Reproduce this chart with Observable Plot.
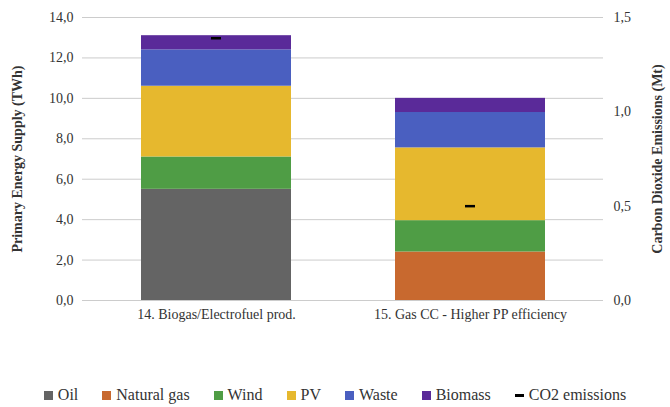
<!DOCTYPE html>
<html><head>
<script src="https://cdn.jsdelivr.net/npm/d3@7"></script>
<script src="https://cdn.jsdelivr.net/npm/@observablehq/plot@0.6"></script>
<style>
body{margin:0;background:#fff;font-family:'Liberation Serif',serif;}
#legend{display:flex;justify-content:center;gap:24px;font-size:16px;margin-top:56px;color:#333}
#legend span{display:flex;align-items:center;gap:5px}
#legend i{display:inline-block;width:9px;height:9px}
</style></head><body>
<div id="chart"></div>
<div id="legend"></div>
<script>
const scenarios = ["14. Biogas/Electrofuel prod.", "15. Gas CC - Higher PP efficiency"]
const sources = ["Oil", "Natural gas", "Wind", "PV", "Waste", "Biomass"]
const colors = ["#646464", "#c8692f", "#4f9d45", "#e6b82e", "#4a5fc0", "#5a2a99"]
const values = [
  [5.5, 0, 1.6, 3.5, 1.8, 0.7],
  [0, 2.4, 1.55, 3.6, 1.75, 0.7]
]
const co2 = [1.39, 0.5]

const rows = []
scenarios.forEach((s, i) => sources.forEach((src, j) => rows.push({scenario: s, source: src, value: values[i][j]})))
const k = 14 / 1.5
const co2rows = scenarios.map((s, i) => ({scenario: s, v: co2[i] * k}))
const fmt = d => d.toFixed(1).replace(".", ",")

const chart = Plot.plot({
  width: 670, height: 330,
  marginLeft: 82, marginRight: 67, marginTop: 17, marginBottom: 30,
  style: {fontFamily: "'Liberation Serif', serif", fontSize: "14px", color: "#333"},
  x: {domain: scenarios, label: null, paddingInner: 0.41, paddingOuter: 0.23, tickSize: 0},
  y: {domain: [0, 14]},
  color: {domain: sources, range: colors},
  marks: [
    Plot.gridY(d3.range(0, 14.1, 2), {stroke: "#ccc", strokeOpacity: 1}),
    Plot.barY(rows, {x: "scenario", y: "value", fill: "source", order: sources}),
    Plot.tickY(co2rows, {x: "scenario", y: "v", stroke: "#000", strokeWidth: 2.5, inset: 70}),
    Plot.axisY(d3.range(0, 14.1, 2), {anchor: "left", tickSize: 0, tickFormat: fmt,
      label: "Primary Energy Supply (TWh)", labelAnchor: "center", labelArrow: "none", labelOffset: 70}),
    Plot.axisY(d3.range(0, 1.51, 0.5).map(d => d * k), {anchor: "right", tickSize: 0, tickPadding: 10,
      tickFormat: d => fmt(d / k), label: "Carbon Dioxide Emissions (Mt)",
      labelAnchor: "center", labelArrow: "none", labelOffset: 58}),
    Plot.axisX({tickSize: 0, label: null})
  ]
})
d3.select(chart).selectAll("[aria-label='y-axis label']").style("font-weight", "bold")
d3.select("#chart").append(() => chart)

const lg = d3.select("#legend")
sources.forEach((s, i) => { const e = lg.append("span"); e.append("i").style("background", colors[i]); e.append("text").text(s) })
const e = lg.append("span"); e.append("i").style("background", "#000").style("height", "3px"); e.append("text").text("CO2 emissions")
</script>
</body></html>
